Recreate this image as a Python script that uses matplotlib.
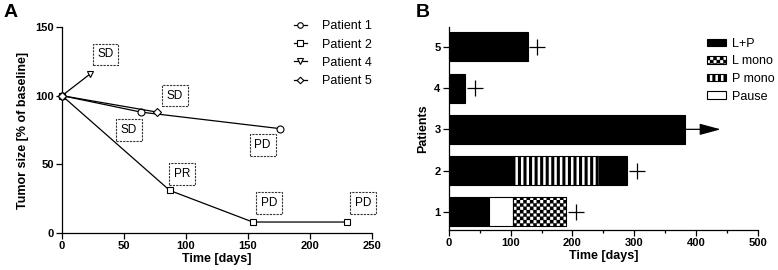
import numpy as np
import matplotlib.pyplot as plt
import matplotlib
import matplotlib.hatch as mhatch
from matplotlib.path import Path

matplotlib.rcParams['font.family'] = ['Liberation Sans', 'DejaVu Sans']
matplotlib.rcParams['hatch.linewidth'] = 2.2

# Panel A: tumour size over time
p1_days = [0, 64, 176]
p1_size = [100, 88, 76]
p2_days = [0, 87, 154, 230]
p2_size = [100, 31, 8, 8]
p4_days = [0, 23]
p4_size = [100, 116]
p5_days = [0, 77]
p5_size = [100, 88]
resp_text = ['SD', 'SD', 'SD', 'PD', 'PR', 'PD', 'PD']
resp_x = [35, 91, 54, 162, 97, 167, 243]
resp_y = [130, 100, 75, 64, 43, 22, 22]

# Panel B: treatment course per patient
seg_patient = [1, 1, 1, 2, 2, 2, 3, 4, 5]
seg_start = [0, 65, 103, 0, 106, 243, 0, 0, 0]
seg_end = [65, 103, 190, 106, 243, 289, 383, 26, 128]
seg_type = ['L+P', 'Pause', 'L mono', 'L+P', 'P mono', 'L+P', 'L+P', 'L+P', 'L+P']
death_patient = [1, 2, 4, 5]
death_day = [206, 305, 43, 143]
ongoing_patient = [3]
ongoing_from = [383]
ongoing_to = [440]
treatments = ['L+P', 'L mono', 'P mono', 'Pause']


# checkerboard hatch, hooked in place of the '*' (star) pattern which is not used here
class CheckerHatch(mhatch.HatchPatternBase):
    def __init__(self, hatch, density):
        self.num_cells = hatch.count('*') * density
        if self.num_cells % 2:
            self.num_cells += 1
        self.num_vertices = self.num_cells * self.num_cells // 2 * 5

    def set_vertices_and_codes(self, vertices, codes):
        n = self.num_cells
        step = 1.0 / n
        square = np.array([[0, 0], [1, 0], [1, 1], [0, 1], [0, 0]]) * step
        parts = []
        for row in range(n):
            for col in range(row % 2, n, 2):
                parts.append(square + [col * step, row * step])
        vertices[:] = np.concatenate(parts)
        codes[:] = np.tile([Path.MOVETO, Path.LINETO, Path.LINETO, Path.LINETO, Path.CLOSEPOLY], n * n // 2)


mhatch._hatch_types = [CheckerHatch if t is mhatch.Stars else t for t in mhatch._hatch_types]

styles = {
    'L+P': dict(facecolor='black', hatch=None, hlw=1.0),
    'L mono': dict(facecolor='white', hatch='*****', hlw=0.2),
    'P mono': dict(facecolor='white', hatch='|||', hlw=2.2),
    'Pause': dict(facecolor='white', hatch=None, hlw=1.0),
}


def set_hatch_lw(patch, lw):
    if hasattr(patch, 'set_hatch_linewidth'):
        patch.set_hatch_linewidth(lw)


fig = plt.figure(figsize=(7.78, 2.70), dpi=100)

# ---------- A ----------
axA = fig.add_axes([0.0797, 0.137, 0.398, 0.763])
lw = 0.9
axA.plot(p1_days, p1_size, color='black', lw=lw, marker='o', ms=5, mfc='white', mew=0.8, label='Patient 1', clip_on=False, zorder=3)
axA.plot(p2_days, p2_size, color='black', lw=lw, marker='s', ms=5, mfc='white', mew=0.8, label='Patient 2', clip_on=False, zorder=3)
axA.plot(p4_days, p4_size, color='black', lw=lw, marker='v', ms=5, mfc='white', mew=0.8, label='Patient 4', clip_on=False, zorder=3)
axA.plot(p5_days, p5_size, color='black', lw=lw, marker='D', ms=4.2, mfc='white', mew=0.8, label='Patient 5', clip_on=False, zorder=3)

for t, x, y in zip(resp_text, resp_x, resp_y):
    axA.text(x, y, t, ha='center', va='center', fontsize=8.5,
             bbox=dict(boxstyle='square,pad=0.4', fc='white', ec='#333333', ls=(0, (2, 1)), lw=0.8))

axA.set_xlim(0, 250)
axA.set_ylim(0, 150)
axA.set_xticks([0, 50, 100, 150, 200, 250])
axA.set_yticks([0, 50, 100, 150])
axA.set_xlabel('Time [days]', fontsize=9, fontweight='bold', labelpad=1)
axA.set_ylabel('Tumor size [% of baseline]', fontsize=9, fontweight='bold', labelpad=4)
axA.legend(loc='upper left', bbox_to_anchor=(0.378, 0.925), bbox_transform=fig.transFigure,
           frameon=False, fontsize=9, handlelength=1.0, labelspacing=0.5, handletextpad=1.2,
           markerscale=0.8, borderaxespad=0, borderpad=0)

# ---------- B ----------
axB = fig.add_axes([0.577, 0.148, 0.397, 0.752])
for p, s, e, t in zip(seg_patient, seg_start, seg_end, seg_type):
    st = styles[t]
    bars = axB.barh(p, e - s, left=s, height=0.7, color=st['facecolor'], hatch=st['hatch'],
                    edgecolor='black', linewidth=0.8, zorder=2)
    for b in bars:
        set_hatch_lw(b, st['hlw'])

axB.plot(death_day, death_patient, linestyle='none', marker='+', ms=11, mew=0.9, color='black')
for p, a, b in zip(ongoing_patient, ongoing_from, ongoing_to):
    axB.annotate('', xy=(b, p), xytext=(a, p),
                 arrowprops=dict(arrowstyle='-|>,head_length=1.3,head_width=0.35',
                                 mutation_scale=10, color='black', lw=0.9, shrinkA=0, shrinkB=0))

handles = []
for t in treatments:
    h = plt.Rectangle((0, 0), 1, 1, facecolor=styles[t]['facecolor'], hatch=styles[t]['hatch'],
                      edgecolor='black', linewidth=0.8)
    set_hatch_lw(h, styles[t]['hlw'])
    handles.append(h)
legB = axB.legend(handles, treatments, loc='upper left', bbox_to_anchor=(0.909, 0.86), bbox_transform=fig.transFigure,
                  frameon=False, fontsize=9, handlelength=1.5, handleheight=0.55, labelspacing=0.45,
                  handletextpad=0.5, borderaxespad=0, borderpad=0)
for lh, t in zip(legB.legend_handles, treatments):
    set_hatch_lw(lh, styles[t]['hlw'])

axB.set_xlim(0, 500)
axB.set_ylim(0.56, 5.48)
axB.set_xticks([0, 100, 200, 300, 400, 500])
axB.set_xticks([50, 150, 250, 350, 450], minor=True)
axB.set_yticks([1, 2, 3, 4, 5])
axB.set_xlabel('Time [days]', fontsize=9, fontweight='bold', labelpad=1)
axB.set_ylabel('Patients', fontsize=9, fontweight='bold', labelpad=4)

for ax in (axA, axB):
    for sp in ('top', 'right'):
        ax.spines[sp].set_visible(False)
    for sp in ('left', 'bottom'):
        ax.spines[sp].set_linewidth(0.9)
    ax.tick_params(which='major', direction='out', length=4, width=0.9, labelsize=8, pad=2)
    ax.tick_params(which='minor', direction='out', length=2.5, width=0.9)
    for lab in ax.get_xticklabels() + ax.get_yticklabels():
        lab.set_fontweight('bold')

fig.text(0.005, 0.985, 'A', fontsize=14, fontweight='bold', va='top', ha='left')
fig.text(0.535, 0.985, 'B', fontsize=14, fontweight='bold', va='top', ha='left')

fig.savefig('out.png', dpi=100)
